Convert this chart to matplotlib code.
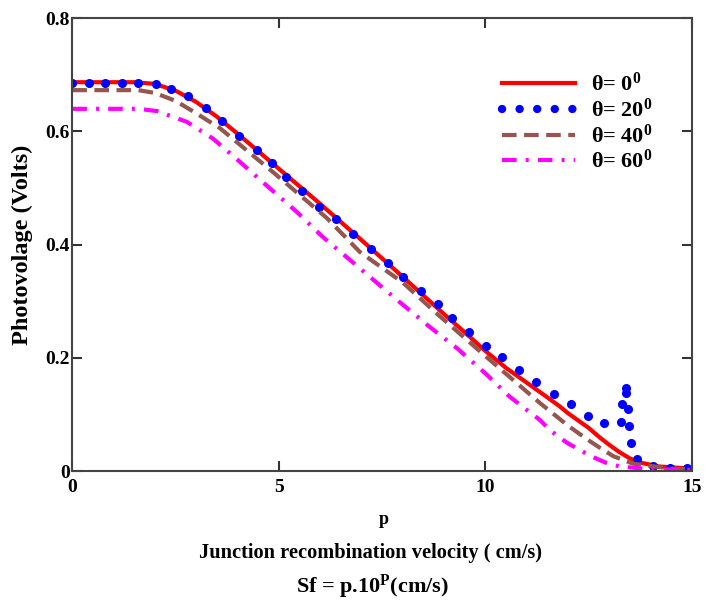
import numpy as np
import matplotlib
matplotlib.use('Agg')
import matplotlib.pyplot as plt
from matplotlib.lines import Line2D

plt.rcParams['font.family'] = ['Liberation Serif', 'DejaVu Serif']
plt.rcParams['font.weight'] = 'bold'
plt.rcParams['mathtext.fontset'] = 'custom'
plt.rcParams['mathtext.rm'] = 'Liberation Serif:bold'
plt.rcParams['mathtext.bf'] = 'Liberation Serif:bold'
plt.rcParams['mathtext.it'] = 'Liberation Serif:bold'

# theta = 0 (trait plein rouge)
p0 = [0, 1.5, 2.0, 2.5, 3.0, 3.5, 4.0, 5.0, 6.0, 7.0, 8.0, 9.0, 9.5, 10.0, 10.5,
      11.0, 11.5, 11.8, 12.0, 12.5, 12.77, 13.0, 13.25, 13.5, 13.8, 14.2, 15.0]
v0 = [0.687, 0.687, 0.684, 0.672, 0.652, 0.626, 0.596, 0.534, 0.472, 0.408, 0.343,
      0.277, 0.245, 0.212, 0.182, 0.156, 0.130, 0.114, 0.102, 0.076, 0.059, 0.046,
      0.033, 0.022, 0.014, 0.008, 0.004]

# theta = 20 (points bleus)
p20 = [0, 0.4, 0.8, 1.2, 1.6, 2.03, 2.4, 2.81, 3.24, 3.63, 4.04, 4.46, 4.84, 5.18,
       5.57, 5.98, 6.39, 6.80, 7.22, 7.63, 8.01, 8.43, 8.84, 9.20, 9.61, 10.02,
       10.41, 10.82, 11.23, 11.65, 12.06, 12.47, 12.87, 13.27, 13.31, 13.39, 13.39,
       13.44, 13.47, 13.52, 13.66, 14.06, 14.46, 14.88]
v20 = [0.686, 0.686, 0.686, 0.686, 0.686, 0.684, 0.675, 0.663, 0.641, 0.618, 0.592,
       0.567, 0.544, 0.519, 0.495, 0.466, 0.445, 0.419, 0.392, 0.367, 0.343, 0.318,
       0.295, 0.270, 0.246, 0.221, 0.201, 0.178, 0.157, 0.136, 0.118, 0.097, 0.085,
       0.087, 0.118, 0.147, 0.138, 0.109, 0.079, 0.050, 0.021, 0.008, 0.006, 0.005]

# theta = 40 (tirets marron)
p40 = [0, 1.6, 2.0, 2.5, 3.0, 3.57, 4.0, 4.86, 6.16, 6.96, 8.0, 8.81, 10.0, 11.32,
       12.0, 12.5, 12.77, 13.1, 13.57, 14.5, 15.0]
v40 = [0.673, 0.673, 0.668, 0.654, 0.632, 0.606, 0.580, 0.528, 0.447, 0.387, 0.333,
       0.279, 0.203, 0.120, 0.080, 0.054, 0.041, 0.026, 0.013, 0.004, 0.003]

# theta = 60 (tiret-point magenta)
p60 = [0, 1.6, 2.05, 2.77, 3.41, 4.06, 4.71, 5.43, 6.07, 6.72, 7.30, 7.93, 8.66,
       9.31, 9.99, 10.59, 11.32, 11.56, 11.97, 12.53, 12.9, 13.25, 14.0, 15.0]
v60 = [0.640, 0.640, 0.636, 0.617, 0.587, 0.546, 0.504, 0.458, 0.413, 0.373, 0.337,
       0.298, 0.254, 0.217, 0.173, 0.131, 0.090, 0.072, 0.050, 0.027, 0.015, 0.008,
       0.003, 0.002]

labels = [r'θ= 0$^{0}$', r'θ= 20$^{0}$', r'θ= 40$^{0}$', r'θ= 60$^{0}$']

fig = plt.figure(figsize=(7.05, 6.03), dpi=100)
ax = fig.add_axes([0.1026, 0.2189, 0.879, 0.7508])

ax.plot(p0, v0, color='red', lw=3.0)
ax.plot(p20, v20, ls='none', marker='o', ms=5.5, color='blue')
ax.plot(p40, v40, color='#94564f', lw=3.0, ls=(0, (3.5, 1.8)))
ax.plot(p60, v60, color='magenta', lw=3.0, ls=(0, (3.5, 2.2, 0.7, 2.2)))

# poignées de légende
handles = [
    Line2D([], [], color='red', lw=3.0),
    Line2D([], [], color='blue', lw=6.0, ls=(0, (0.01, 2.1)), dash_capstyle='round'),
    Line2D([], [], color='#94564f', lw=3.0, ls=(0, (3.5, 1.8))),
    Line2D([], [], color='magenta', lw=3.0, ls=(0, (3.5, 2.2, 0.7, 2.2))),
]

ax.set_xlim(0, 15)
ax.set_ylim(0, 0.8)
ax.set_xticks([0, 5, 10, 15])
ax.set_xticklabels(['0', '5', '10', '15'])
ax.set_yticks([0, 0.2, 0.4, 0.6, 0.8])
ax.set_yticklabels(['0', '0.2', '0.4', '0.6', '0.8'])
ax.tick_params(direction='in', length=7, width=1.5, top=True, right=True,
               labelsize=14, colors='#333333', labelcolor='black')
ax.tick_params(axis='x', pad=6)
ax.tick_params(axis='y', pad=2)
for s in ax.spines.values():
    s.set_linewidth(1.5)
    s.set_color('#444444')

leg = ax.legend(handles, labels, loc='upper right', bbox_to_anchor=(0.95, 0.9),
                frameon=False, fontsize=16, handlelength=3.3, labelspacing=0.12,
                handletextpad=0.7, borderaxespad=0)
for t in leg.get_texts():
    t.set_fontweight('bold')

ax.set_ylabel('Photovolage (Volts)', fontsize=17.5, fontweight='bold', labelpad=9)

fig.text(0.545, 0.138, 'p', ha='center', va='center', fontsize=13, fontweight='bold')
fig.text(0.526, 0.083, 'Junction recombination velocity ( cm/s)', ha='center',
         va='center', fontsize=14.7, fontweight='bold')
fig.text(0.529, 0.027, r'Sf = p.10$^{\mathbf{P}}$(cm/s)', ha='center', va='center',
         fontsize=16, fontweight='bold')

fig.savefig('out.png', dpi=100)
